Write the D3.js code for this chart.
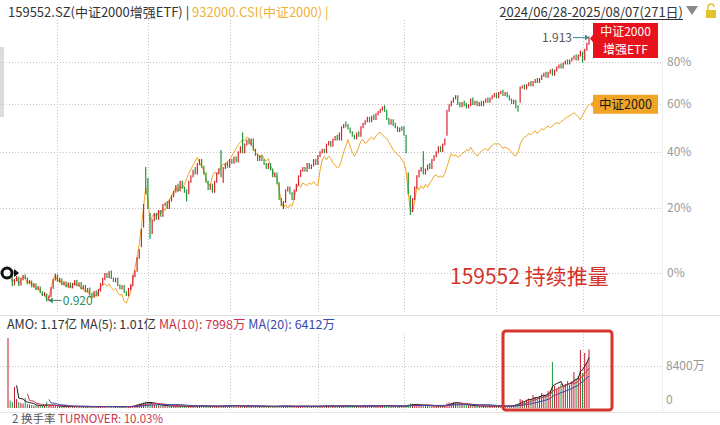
<!DOCTYPE html>
<html><head><meta charset="utf-8">
<script src="https://cdn.jsdelivr.net/npm/d3@7/dist/d3.min.js"></script>
<style>
html,body{margin:0;padding:0;background:#fff;}
svg{display:block;font-family:"Noto Sans CJK SC","Noto Sans",sans-serif;}
</style></head><body>
<svg id="chart" width="720" height="425"></svg>
<script>
// ETF 159552 daily open / close (price)
const etfOpen = [
0.990,0.992,0.984,0.962,0.973,0.980,0.962,0.976,0.986,0.978,
0.966,0.970,0.956,0.962,0.949,0.954,0.941,0.933,0.935,0.921,
0.931,0.953,0.975,0.987,0.970,0.976,0.962,0.967,0.956,0.964,
0.954,0.962,0.972,0.959,0.966,0.951,0.958,0.943,0.951,0.937,
0.929,0.943,0.933,0.946,0.962,0.976,0.991,0.981,0.997,0.978,
0.970,0.978,0.959,0.951,0.958,0.941,0.933,0.949,0.959,0.984,
0.999,1.036,1.070,1.130,1.330,1.290,1.170,1.110,1.150,1.170,
1.155,1.180,1.165,1.200,1.210,1.190,1.215,1.230,1.245,1.270,
1.250,1.280,1.260,1.250,1.240,1.280,1.300,1.330,1.310,1.345,
1.360,1.335,1.310,1.280,1.255,1.270,1.245,1.280,1.310,1.395,
1.280,1.330,1.350,1.335,1.360,1.350,1.370,1.355,1.390,1.465,
1.390,1.420,1.440,1.420,1.440,1.400,1.380,1.360,1.375,1.360,
1.345,1.330,1.345,1.325,1.300,1.310,1.275,1.220,1.190,1.210,
1.250,1.260,1.240,1.220,1.250,1.270,1.300,1.320,1.330,1.320,
1.345,1.330,1.340,1.360,1.345,1.375,1.390,1.400,1.390,1.420,
1.430,1.415,1.440,1.455,1.440,1.440,1.490,1.510,1.500,1.485,
1.470,1.455,1.445,1.470,1.455,1.490,1.505,1.515,1.530,1.515,
1.540,1.525,1.545,1.555,1.565,1.580,1.560,1.525,1.505,1.520,
1.505,1.490,1.475,1.490,1.490,1.455,1.310,1.230,1.180,1.220,
1.260,1.300,1.320,1.390,1.310,1.325,1.345,1.330,1.360,1.375,
1.390,1.410,1.395,1.420,1.460,1.560,1.585,1.600,1.615,1.625,
1.595,1.580,1.600,1.590,1.575,1.585,1.615,1.590,1.600,1.585,
1.600,1.585,1.600,1.615,1.600,1.615,1.625,1.635,1.620,1.640,
1.650,1.630,1.640,1.625,1.610,1.595,1.605,1.580,1.600,1.665,
1.675,1.660,1.675,1.690,1.675,1.690,1.705,1.690,1.705,1.720,
1.735,1.715,1.735,1.750,1.725,1.745,1.760,1.775,1.760,1.780,
1.795,1.780,1.795,1.805,1.820,1.800,1.820,1.835,1.800,1.850,1.880];
const etfClose = [
0.993,0.985,0.960,0.974,0.982,0.960,0.977,0.985,0.979,0.965,
0.971,0.957,0.963,0.950,0.955,0.942,0.934,0.939,0.920,0.930,
0.952,0.974,0.988,0.971,0.977,0.963,0.968,0.957,0.965,0.955,
0.963,0.971,0.960,0.965,0.952,0.957,0.944,0.950,0.936,0.930,
0.942,0.934,0.947,0.963,0.977,0.990,0.982,0.996,0.979,0.971,
0.977,0.960,0.952,0.957,0.942,0.934,0.950,0.960,0.985,0.998,
1.035,1.059,1.120,1.200,1.240,1.190,1.095,1.150,1.170,1.155,
1.180,1.165,1.200,1.205,1.190,1.215,1.230,1.245,1.265,1.250,
1.280,1.260,1.245,1.215,1.280,1.300,1.320,1.310,1.345,1.360,
1.335,1.310,1.280,1.255,1.270,1.245,1.280,1.310,1.325,1.300,
1.330,1.345,1.335,1.360,1.350,1.370,1.355,1.390,1.410,1.390,
1.420,1.435,1.425,1.440,1.400,1.380,1.360,1.375,1.360,1.345,
1.330,1.345,1.325,1.300,1.310,1.275,1.220,1.200,1.210,1.250,
1.260,1.240,1.220,1.250,1.270,1.300,1.320,1.330,1.320,1.345,
1.330,1.340,1.360,1.345,1.375,1.390,1.400,1.390,1.420,1.430,
1.415,1.440,1.450,1.440,1.465,1.490,1.500,1.495,1.485,1.470,
1.455,1.445,1.465,1.455,1.490,1.505,1.515,1.530,1.515,1.535,
1.525,1.545,1.555,1.565,1.575,1.560,1.525,1.505,1.520,1.500,
1.490,1.475,1.485,1.480,1.460,1.390,1.240,1.170,1.220,1.260,
1.300,1.320,1.330,1.310,1.325,1.340,1.330,1.360,1.375,1.390,
1.410,1.395,1.420,1.440,1.560,1.585,1.600,1.615,1.625,1.590,
1.580,1.595,1.585,1.575,1.585,1.610,1.590,1.600,1.585,1.595,
1.585,1.600,1.610,1.600,1.615,1.625,1.635,1.620,1.640,1.645,
1.630,1.640,1.625,1.610,1.595,1.605,1.575,1.560,1.665,1.670,
1.660,1.675,1.685,1.675,1.690,1.700,1.690,1.705,1.720,1.730,
1.715,1.735,1.745,1.725,1.745,1.760,1.770,1.760,1.780,1.790,
1.780,1.795,1.805,1.815,1.800,1.820,1.840,1.790,1.850,1.880,1.913];
// 932000.CSI change since start (%)
const csiPct = [
0,-0.8,-2.5,-1.8,-1.2,-3.0,-2.0,-1.0,-1.5,-2.8,
-2.2,-3.5,-3.0,-4.5,-4.0,-5.2,-6.0,-5.6,-7.2,-6.5,
-4.2,-1.8,-0.6,-2.2,-1.8,-3.2,-2.6,-3.8,-3.0,-4.2,
-3.4,-2.6,-3.6,-3.2,-4.4,-4.0,-5.2,-4.8,-6.0,-6.8,
-5.6,-6.4,-5.0,-3.8,-3.2,-3.0,-3.6,-3.0,-4.0,-4.6,
-4.2,-5.4,-6.0,-5.8,-7.6,-8.0,-6.6,-5.2,-2.0,1.5,
4.5,8.5,14,20,27,23,15.5,17,18,17,
19,18,20,19,21,22.5,24,25.5,27,25.5,
27.5,26.5,28,30,32,33.5,35,36.5,38,36,
34.5,33,30,28,27.5,31,32.5,31.5,33,34.5,
35.5,35,36.5,37,38.5,40,41.5,43,44,45,
44.5,46,45.5,43,41.5,40,39,38,39,37.5,
36.5,37.5,35,33,31,30.5,26,22,20,21,
19.8,21,20.5,23,26.5,28,27,28.5,28,27.5,
28.5,28,29,28,27.5,33,37,38.5,37,38.5,
37.5,36,35,34,34.5,37,40,42.5,45,42,
40,38.5,40,42,44.5,45,43.5,44,45.5,46,
45,46.5,47.5,48,47,46,45.5,44,42.5,41,
40,39,38.5,37,36,33,25,19,18.6,22,
27,26,27.5,26.5,28,27,28.5,29.5,31,31.5,
30.5,31,30.5,32,34.5,37,39.5,38.5,39,38,
38.5,39.5,40,41,40.5,42,40.5,39.5,38.5,39.5,
40.5,41,41.5,40.5,42,42.5,43.5,43,43.5,42.5,
41.5,42,41.5,41,40,39,38.5,40,43,45,
46,46.5,47.5,47,48,48.5,47.5,48.5,49.5,49,
50,50.5,50,50.5,51.5,52,51.5,52.5,53,54,
54.5,55,55.5,56.3,55.5,54.5,53.3,55,57,58.5,60];
// turnover amount (万元)
const amount = [
14000,1500,1200,4200,1800,1200,1000,900,2000,800,700,600,500,500,450,450,400,380,1200,450,
500,420,380,350,330,320,300,310,290,300,280,300,270,260,280,260,250,270,260,280,
260,250,270,300,320,300,280,300,270,260,250,270,260,250,270,280,300,320,450,600,
800,900,1000,1100,1300,1200,1000,800,700,600,550,500,460,440,420,400,380,400,420,380,
360,350,340,360,380,400,420,450,480,430,400,380,360,340,330,350,370,360,380,400,
420,450,500,560,520,480,440,420,400,380,400,420,400,380,360,350,340,330,320,310,
300,310,320,330,340,360,400,420,400,380,360,340,320,330,350,360,380,370,360,350,
340,330,340,350,360,380,400,420,440,420,400,390,380,400,420,450,430,410,400,390,
380,370,360,380,400,420,440,460,450,440,430,420,440,460,480,460,440,420,400,390,
380,370,360,380,400,420,700,900,800,650,600,550,500,600,520,480,450,400,380,420,
400,380,450,500,900,1100,1000,1200,1100,1000,800,700,600,550,500,480,450,420,400,380,
400,420,380,360,380,400,370,350,360,340,
350,400,380,450,500,600,800,900,1800,1600,1400,1700,1900,1800,2600,2200,2100,2400,3000,2700,
2600,3400,3600,9200,4400,3900,4260,4800,4500,4800,5400,4600,5380,7200,5900,6400,11600,7000,11000,9200,11700];
const pctTicks = [0, 20, 40, 60, 80];
const volTicks = [0, 8400];
const gridIdx = [23, 65, 103, 144, 184, 227, 267];
const maWindows = [5, 10, 20];

const svg = d3.select('#chart');
const n = etfClose.length;
const base = etfClose[0];
const RED = '#d8232a', GREEN = '#1e9638', ORANGE = '#f0a526';
const x = d3.scaleLinear().domain([0, n - 1]).range([8, 589]);
const y = d3.scaleLog().domain([1, 1.8]).range([273, 62]);
const yv = d3.scaleLinear().domain([0, 8400]).range([408, 366]);
const up = i => etfClose[i] >= etfOpen[i];

// frame lines
svg.append('line').attr('x1',0).attr('x2',720).attr('y1',315.5).attr('y2',315.5).attr('stroke','#e2e2e2');
svg.append('line').attr('x1',0).attr('x2',720).attr('y1',412.5).attr('y2',412.5).attr('stroke','#e6e6e6');
svg.append('line').attr('x1',662.5).attr('x2',662.5).attr('y1',20).attr('y2',412).attr('stroke','#eeeeee');
svg.append('rect').attr('x',0).attr('y',47).attr('width',4).attr('height',70).attr('fill','#dcdcdc');

// grid
const grid = svg.append('g').attr('stroke','#c4c4c4').attr('stroke-dasharray','1,2');
grid.selectAll('.h').data(pctTicks).join('line')
  .attr('x1',0).attr('x2',662).attr('y1',d=>Math.round(y(1+d/100))+0.5).attr('y2',d=>Math.round(y(1+d/100))+0.5);
grid.selectAll('.v').data(gridIdx).join('line')
  .attr('x1',d=>Math.round(x(d))+0.5).attr('x2',d=>Math.round(x(d))+0.5).attr('y1',20).attr('y2',314);
grid.selectAll('.vv').data(gridIdx).join('line')
  .attr('x1',d=>Math.round(x(d))+0.5).attr('x2',d=>Math.round(x(d))+0.5).attr('y1',334).attr('y2',411);
grid.selectAll('.hv').data(volTicks.filter(d=>d>0)).join('line')
  .attr('x1',0).attr('x2',662).attr('y1',d=>Math.round(yv(d))+0.5).attr('y2',d=>Math.round(yv(d))+0.5);

// axis labels
svg.selectAll('.pl').data(pctTicks).join('text')
  .attr('x',667).attr('y',d=>y(1+d/100)).attr('dy','0.35em')
  .attr('font-size',12).attr('fill','#9a9a9a').text(d=>d+'%');
svg.selectAll('.vl').data(volTicks).join('text')
  .attr('x',666).attr('y',d=>d===0?400:yv(d)).attr('dy','0.35em')
  .attr('font-size',12).attr('fill','#9a9a9a').text(d=>d===0?'0':d+'万');

// index line
svg.append('path').datum(csiPct)
  .attr('fill','none').attr('stroke',ORANGE).attr('stroke-width',1)
  .attr('d', d3.line().x((d,i)=>x(i)).y(d=>y(1+d/100)));

// candles
svg.append('g').selectAll('line').data(d3.range(n)).join('line')
  .attr('x1',i=>x(i)).attr('x2',i=>x(i))
  .attr('y1',i=>Math.min(y(etfOpen[i]/base), y(etfClose[i]/base)) - 1)
  .attr('y2',i=>Math.max(y(etfOpen[i]/base), y(etfClose[i]/base)) + 1)
  .attr('stroke',i=>up(i)?RED:GREEN).attr('stroke-width',1.2);

// volume bars
svg.append('g').selectAll('line').data(d3.range(n)).join('line')
  .attr('x1',i=>x(i)).attr('x2',i=>x(i))
  .attr('y1',yv(0)).attr('y2',i=>yv(amount[i]))
  .attr('stroke',i=>up(i)?'#c0182c':GREEN).attr('stroke-width',1);

// volume MAs
const maColors = ['#1b1b1b','#c8344c','#3a4aa8'];
maWindows.forEach((k,j)=>{
  const m = amount.map((v,i)=> i<k-1 ? null : d3.mean(amount.slice(i-k+1,i+1)));
  svg.append('path').datum(m).attr('fill','none').attr('stroke',maColors[j]).attr('stroke-width',1)
    .attr('d', d3.line().defined(d=>d!=null).x((d,i)=>x(i)).y(d=>yv(d)));
});

// highlight box
svg.append('rect').attr('x',503).attr('y',331).attr('width',109).attr('height',79).attr('rx',3)
  .attr('fill','none').attr('stroke','#d6352b').attr('stroke-width',3);

// start marker
const y0 = y(1);
svg.append('circle').attr('cx',7).attr('cy',y0).attr('r',5).attr('fill','#fff').attr('stroke','#111').attr('stroke-width',3);
svg.append('path').attr('d',`M14,${y0-4}L19,${y0}L14,${y0+4}Z`).attr('fill','#111');

// min label
const iMin = d3.minIndex(etfClose);
const yMin = y(etfClose[iMin]/base);
svg.append('line').attr('x1',x(iMin)+2).attr('x2',x(iMin)+15).attr('y1',yMin).attr('y2',yMin).attr('stroke','#3a8a6a');
svg.append('path').attr('d',`M${x(iMin)+2},${yMin}l4,-3v6Z`).attr('fill','#3a8a6a');
svg.append('text').attr('x',x(iMin)+16).attr('y',yMin).attr('dy','0.35em').attr('font-size',12).attr('fill','#2f8a5e')
  .text(etfClose[iMin].toFixed(3));

// last label
const yLast = y(etfClose[n-1]/base);
const xLast = x(n-1);
svg.append('text').attr('x',xLast-17).attr('y',yLast).attr('dy','0.35em').attr('text-anchor','end')
  .attr('font-size',12).attr('fill','#555').text(etfClose[n-1].toFixed(3));
svg.append('line').attr('x1',xLast-16).attr('x2',xLast-1).attr('y1',yLast).attr('y2',yLast).attr('stroke','#3c8c96');
svg.append('path').attr('d',`M${xLast},${yLast}l-4,-3v6Z`).attr('fill','#3c8c96');

// series tags
svg.append('path').attr('d',`M${xLast+1},${yLast+1}L594,${yLast-4}L594,${yLast+6}Z`).attr('fill','#e8121c');
svg.append('rect').attr('x',593).attr('y',23).attr('width',65).attr('height',35).attr('fill','#e8121c');
svg.append('text').attr('x',625.5).attr('y',32).attr('dy','0.35em').attr('text-anchor','middle').attr('font-size',12).attr('fill','#fff').text('中证2000');
svg.append('text').attr('x',625.5).attr('y',49.5).attr('dy','0.35em').attr('text-anchor','middle').attr('font-size',12).attr('fill','#fff').text('增强ETF');
const yIdx = y(1+csiPct[n-1]/100);
svg.append('path').attr('d',`M${xLast+1},${yIdx}L594,${yIdx-4}L594,${yIdx+4}Z`).attr('fill',ORANGE);
svg.append('rect').attr('x',593).attr('y',yIdx-9.5).attr('width',65).attr('height',19).attr('fill',ORANGE);
svg.append('text').attr('x',625.5).attr('y',yIdx).attr('dy','0.35em').attr('text-anchor','middle').attr('font-size',12.5).attr('fill','#1a1a1a').text('中证2000');

// annotation
svg.append('text').attr('x',450).attr('y',277).attr('dy','0.35em').attr('font-size',21).attr('fill','#d5322a').text('159552 持续推量');

// header
const hdr = svg.append('text').attr('x',8).attr('y',12).attr('dy','0.35em').attr('font-size',13);
hdr.append('tspan').attr('fill','#333').text('159552.SZ(中证2000增强ETF) | ');
hdr.append('tspan').attr('fill','#f0b23a').text('932000.CSI(中证2000) |');
svg.append('text').attr('x',683).attr('y',12).attr('dy','0.35em').attr('text-anchor','end').attr('font-size',13).attr('fill','#333')
  .text('2024/06/28-2025/08/07(271日)');
svg.append('line').attr('x1',505).attr('x2',683).attr('y1',19.5).attr('y2',19.5).attr('stroke','#333');
svg.append('path').attr('d','M686,6L698,6L692,15Z').attr('fill','#8a8a8a');
svg.append('rect').attr('x',706).attr('y',10).attr('width',10).attr('height',8).attr('fill','#e6c12e');
svg.append('path').attr('d','M708,10v-3a3,3 0 0 1 6,0').attr('fill','none').attr('stroke','#e6c12e').attr('stroke-width',1.5);

// volume header
const vh = svg.append('text').attr('x',7).attr('y',325).attr('dy','0.35em').attr('font-size',12.5);
vh.append('tspan').attr('fill','#333').text('AMO: 1.17亿  MA(5): 1.01亿  ');
vh.append('tspan').attr('fill','#c8344c').text('MA(10): 7998万  ');
vh.append('tspan').attr('fill','#3a4aa8').text('MA(20): 6412万');

// next panel header
const th = svg.append('text').attr('x',12).attr('y',423).attr('font-size',11.5);
th.append('tspan').attr('fill','#555').text('2  换手率 ');
th.append('tspan').attr('fill','#c8344c').text('TURNOVER: 10.03%');
</script>
</body></html>
